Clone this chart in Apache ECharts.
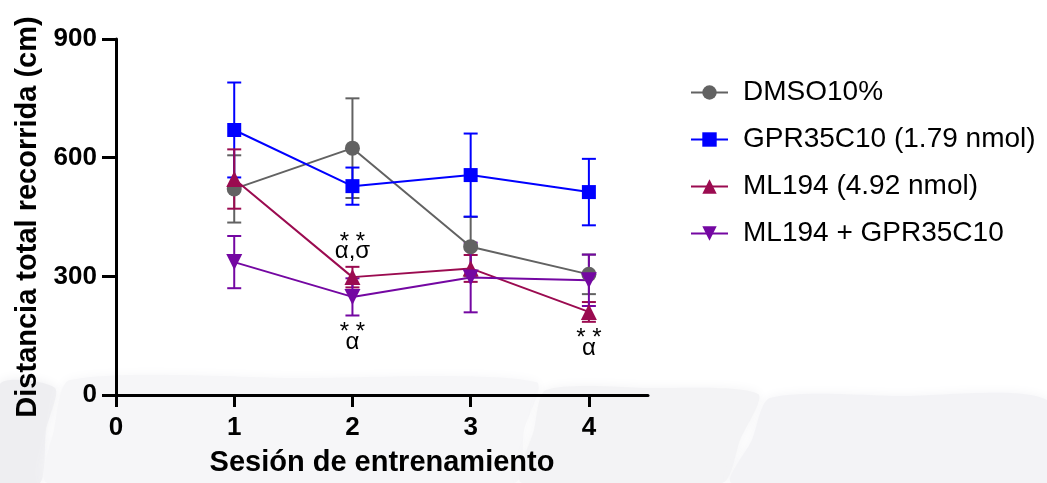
<!DOCTYPE html>
<html>
<head>
<meta charset="utf-8">
<script src="https://cdn.jsdelivr.net/npm/echarts@6/dist/echarts.min.js"></script>
<style>
  html, body { margin: 0; padding: 0; background: #fff; }
  #chart { width: 1047px; height: 483px; }
</style>
</head>
<body>
<div id="chart"></div>
<script>
// Training sessions and axis ticks
const sessions = [1, 2, 3, 4];
const xTicks = [0, 1, 2, 3, 4];
const yTicks = [0, 300, 600, 900];

// Group names (legend order)
const groupNames = ['DMSO10%', 'GPR35C10 (1.79 nmol)', 'ML194 (4.92 nmol)', 'ML194 + GPR35C10'];

// Mean total distance (cm) and SEM per session
const dmsoMean = [521, 624, 375, 305];
const dmsoSem = [85, 126, 75, 50];
const gprMean = [670, 528, 556, 513];
const gprSem = [120, 47, 105, 84];
const mlMean = [546, 298, 320, 210];
const mlSem = [75, 26, 34, 25];
const comboMean = [336, 248, 297, 290];
const comboSem = [66, 47, 88, 65];

// Significance marks: group index, session, side of the error bar, text lines
const sigGroup = [2, 3, 2];
const sigSession = [2, 2, 4];
const sigSide = ['above', 'below', 'below'];
const sigStars = ['* *', '* *', '* *'];
const sigLetters = ['α,σ', 'α', 'α'];

const FONT = '"Liberation Sans", Arial, Helvetica, sans-serif';
const colors = ['#626262', '#0000ff', '#9b0b50', '#7407a2'];
const symbols = ['circle', 'rect', 'triangle', 'triangle'];
const symbolRotates = [0, 0, 0, 180];
const symbolSizes = [15, 14, 16, 16];
const means = [dmsoMean, gprMean, mlMean, comboMean];
const sems = [dmsoSem, gprSem, mlSem, comboSem];

function errorBars(gi) {
  const color = colors[gi];
  return {
    type: 'custom',
    name: groupNames[gi] + ' SEM',
    z: 2,
    silent: true,
    encode: { x: 0, y: [1, 2] },
    data: sessions.map((s, i) => [s, means[gi][i] - sems[gi][i], means[gi][i] + sems[gi][i]]),
    renderItem(params, api) {
      const x = api.value(0);
      const lo = api.coord([x, api.value(1)]);
      const hi = api.coord([x, api.value(2)]);
      const hw = 7;
      const style = { stroke: color, lineWidth: 2 };
      return {
        type: 'group',
        children: [
          { type: 'line', shape: { x1: lo[0], y1: lo[1], x2: hi[0], y2: hi[1] }, style },
          { type: 'line', shape: { x1: lo[0] - hw, y1: lo[1], x2: lo[0] + hw, y2: lo[1] }, style },
          { type: 'line', shape: { x1: hi[0] - hw, y1: hi[1], x2: hi[0] + hw, y2: hi[1] }, style }
        ]
      };
    }
  };
}

function lineSeries(gi) {
  return {
    type: 'line',
    name: groupNames[gi],
    z: 3,
    data: sessions.map((s, i) => [s, means[gi][i]]),
    symbol: symbols[gi],
    symbolRotate: symbolRotates[gi],
    symbolSize: symbolSizes[gi],
    showAllSymbol: true,
    lineStyle: { color: colors[gi], width: 2 },
    itemStyle: { color: colors[gi], opacity: 1 },
    emphasis: { disabled: true },
    animation: false
  };
}

// Significance labels anchored to the end of the relevant error bar
const sigData = sigGroup.map((g, k) => {
  const i = sessions.indexOf(sigSession[k]);
  const anchor = sigSide[k] === 'above' ? means[g][i] + sems[g][i] : means[g][i] - sems[g][i];
  return [sigSession[k], anchor, sigSide[k] === 'above' ? 1 : -1, k];
});

const sigSeries = {
  type: 'custom',
  name: 'sig',
  z: 5,
  silent: true,
  encode: { x: 0, y: 1 },
  data: sigData,
  renderItem(params, api) {
    const p = api.coord([api.value(0), api.value(1)]);
    const up = api.value(2) > 0;
    const k = api.value(3);
    const starY = up ? p[1] - 24 : p[1] + 17;
    const letterY = up ? p[1] - 15 : p[1] + 27;
    const base = { fill: '#000', align: 'center', verticalAlign: 'middle', font: '24px ' + FONT };
    return {
      type: 'group',
      children: [
        { type: 'text', style: Object.assign({ text: sigStars[k], x: p[0], y: starY }, base) },
        { type: 'text', style: Object.assign({ text: sigLetters[k], x: p[0], y: letterY }, base) }
      ]
    };
  }
};

// Faint backdrop shapes along the bottom of the figure
const backdrop = [
  { points: [[0, 384], [55, 388], [46, 430], [40, 483], [0, 483]], fill: '#eeeef1' },
  { points: [[70, 380], [300, 378], [536, 382], [524, 430], [514, 483], [48, 483], [54, 430]], fill: '#f6f6f8' },
  { points: [[546, 390], [650, 388], [758, 394], [740, 440], [722, 483], [522, 483], [534, 430]], fill: '#f3f3f5' },
  { points: [[770, 398], [900, 396], [1047, 400], [1047, 483], [732, 483], [752, 440]], fill: '#f3f3f6' }
].map(s => ({
  type: 'polygon',
  silent: true,
  z: -10,
  shape: { points: s.points, smooth: 0.25 },
  style: { fill: s.fill, shadowBlur: 12, shadowColor: s.fill }
}));

const chart = echarts.init(document.getElementById('chart'), null, { renderer: 'canvas' });

chart.setOption({
  backgroundColor: '#ffffff',
  animation: false,
  textStyle: { fontFamily: FONT },
  graphic: backdrop,
  grid: { left: 116, right: 399, top: 39, bottom: 88, containLabel: false },
  legend: {
    data: groupNames,
    orient: 'vertical',
    left: 685,
    top: 72,
    itemWidth: 37,
    itemHeight: 18,
    itemGap: 16,
    textStyle: { fontSize: 28, color: '#000', fontFamily: FONT, padding: [0, 0, 0, 10], lineHeight: 31 },
    selectedMode: false
  },
  xAxis: {
    type: 'value',
    min: 0,
    max: 4.5,
    interval: 1,
    name: 'Sesión de entrenamiento',
    nameLocation: 'middle',
    nameGap: 53,
    nameTextStyle: { fontSize: 29, fontWeight: 'bold', color: '#000', fontFamily: FONT },
    axisLine: { show: true, onZero: false, lineStyle: { color: '#000', width: 3 } },
    axisTick: { show: true, length: 12, lineStyle: { color: '#000', width: 3 }, customValues: xTicks },
    axisLabel: { fontSize: 26, fontWeight: 'bold', color: '#000', margin: 20, customValues: xTicks },
    splitLine: { show: false }
  },
  yAxis: {
    type: 'value',
    min: 0,
    max: 900,
    interval: 300,
    name: 'Distancia total recorrida (cm)',
    nameLocation: 'middle',
    nameGap: 74,
    nameTextStyle: { fontSize: 29, fontWeight: 'bold', color: '#000', fontFamily: FONT },
    axisLine: { show: true, lineStyle: { color: '#000', width: 3 } },
    axisTick: { show: true, length: 14, lineStyle: { color: '#000', width: 3 }, customValues: yTicks },
    axisLabel: { fontSize: 26, fontWeight: 'bold', color: '#000', margin: 19, customValues: yTicks },
    splitLine: { show: false }
  },
  series: [
    lineSeries(0), lineSeries(1), lineSeries(2), lineSeries(3),
    errorBars(0), errorBars(1), errorBars(2), errorBars(3),
    sigSeries
  ]
});
</script>
</body>
</html>
